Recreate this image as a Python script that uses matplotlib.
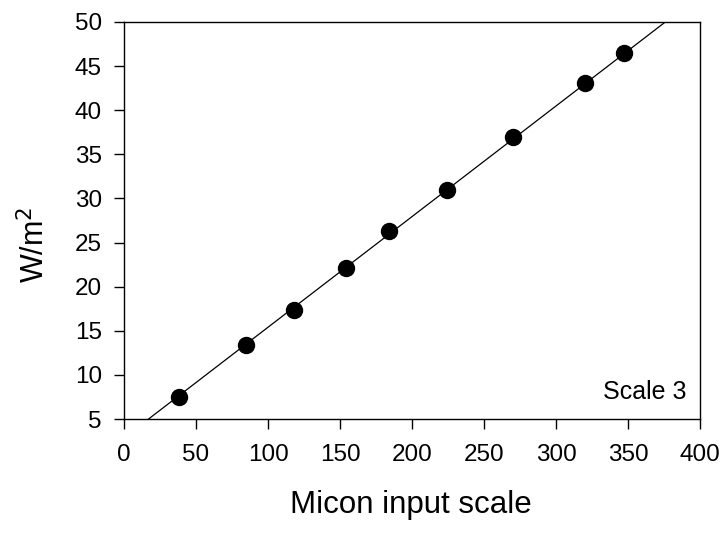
import matplotlib
matplotlib.use("Agg")
import matplotlib.pyplot as plt
import numpy as np

plt.rcParams['font.family'] = ['Liberation Sans', 'DejaVu Sans']

# Data
micon_input = [38, 85, 118, 154, 184, 224, 270, 320, 347]
irradiance = [7.5, 13.4, 17.4, 22.1, 26.3, 31.0, 37.0, 43.1, 46.5]
fit_slope = 0.1254
fit_intercept = 2.86
xticks = [0, 50, 100, 150, 200, 250, 300, 350, 400]
yticks = [5, 10, 15, 20, 25, 30, 35, 40, 45, 50]

fig = plt.figure(figsize=(7.22, 5.34), dpi=100)
ax = fig.add_axes([124/722, 1-419/534, 576/722, 397/534])

xline = np.linspace(0, 400, 200)
ax.plot(xline, fit_slope*xline + fit_intercept, color='black', lw=0.9, zorder=2)
ax.plot(micon_input, irradiance, 'o', color='black', markersize=11.5, zorder=3)

ax.set_xlim(0, 400)
ax.set_ylim(5, 50)
ax.set_xticks(xticks)
ax.set_yticks(yticks)
ax.tick_params(axis='both', direction='out', length=7, width=1, labelsize=17.5,
               top=False, right=False)
ax.tick_params(axis='x', pad=11)
ax.tick_params(axis='y', pad=9)
for s in ax.spines.values():
    s.set_linewidth(1)
    s.set_color('black')

ax.set_xlabel('Micon input scale', fontsize=22.5)
ax.xaxis.set_label_coords(0.498, -0.217)
ax.xaxis.label.set_va('center')
ax.set_ylabel('W/m$^2$', fontsize=22)
ax.yaxis.set_label_coords(-0.155, 0.438)
ax.yaxis.label.set_va('center')

ax.text(0.977, 0.068, 'Scale 3', transform=ax.transAxes, ha='right', va='center',
        fontsize=18)

fig.savefig('out.png', dpi=100)
